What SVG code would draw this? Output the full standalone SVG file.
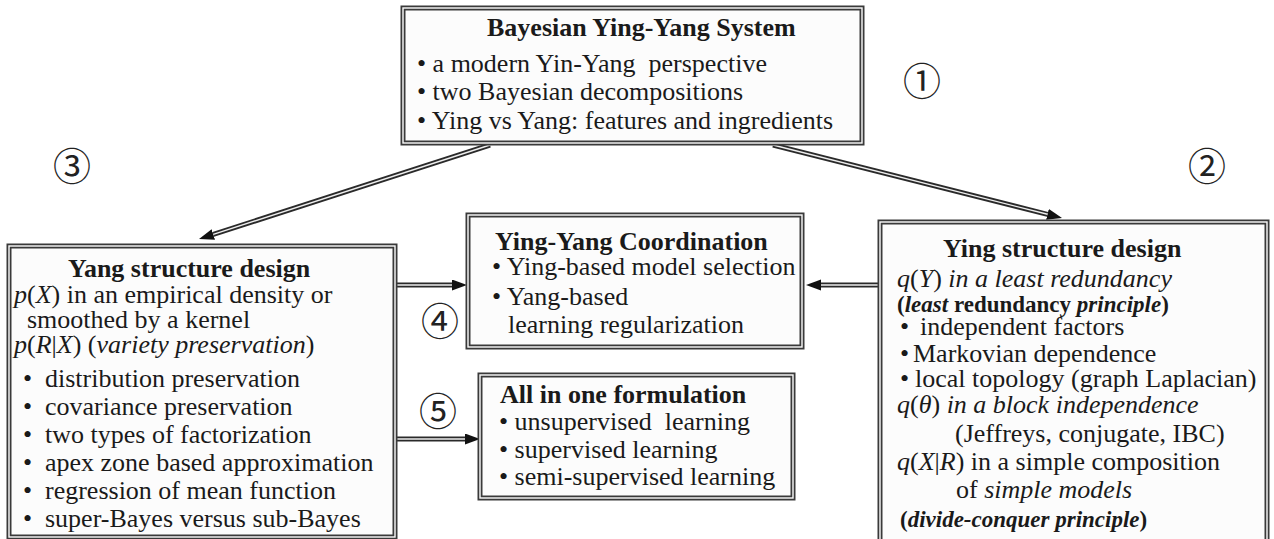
<svg xmlns="http://www.w3.org/2000/svg" width="1274" height="539" viewBox="0 0 1274 539">
<style>
text{font-family:"Liberation Serif","Times New Roman",serif;font-size:26px;fill:#1a1a1a}
.b{font-weight:bold}
.i{font-style:italic}
.s{font-size:23px}
.box{fill:#fcfcfc;stroke:#3a3a3a;stroke-width:5}
.gap{fill:none;stroke:#fcfcfc;stroke-width:1.4}
.shaft{fill:none;stroke:#2a2a2a;stroke-width:5}
.core{fill:none;stroke:#eeeeee;stroke-width:1.4}
.num{font-family:"Noto Sans CJK JP","DejaVu Sans",sans-serif;font-size:38px;text-anchor:middle;dominant-baseline:central;fill:#222}
</style>
<defs>
<marker id="ah" markerUnits="userSpaceOnUse" markerWidth="16" markerHeight="12" refX="0" refY="5.5" orient="auto">
<path d="M0,0 L15,5.5 L0,11 Z" fill="#111"/>
</marker>
</defs>
<rect width="1274" height="539" fill="#ffffff"/>

<g id="connectors">
<line class="shaft" x1="490" y1="145" x2="213.3" y2="234.4" marker-end="url(#ah)"/>
<line class="core" x1="490" y1="145" x2="213.3" y2="234.4"/>
<line class="shaft" x1="773" y1="145" x2="1047.5" y2="214.3" marker-end="url(#ah)"/>
<line class="core" x1="773" y1="145" x2="1047.5" y2="214.3"/>
<line class="shaft" x1="397" y1="285" x2="452" y2="285" marker-end="url(#ah)"/>
<line class="core" x1="397" y1="285" x2="452" y2="285"/>
<line class="shaft" x1="878" y1="285" x2="821" y2="285" marker-end="url(#ah)"/>
<line class="core" x1="878" y1="285" x2="821" y2="285"/>
<line class="shaft" x1="397" y1="439" x2="465" y2="439" marker-end="url(#ah)"/>
<line class="core" x1="397" y1="439" x2="465" y2="439"/>
</g>

<g id="bys">
<rect class="box" x="403" y="8" width="459" height="135"/>
<rect class="gap" x="403" y="8" width="459" height="135"/>
<text class="b" x="487" y="36">Bayesian Ying-Yang System</text>
<text x="417" y="72">• a modern Yin-Yang&#160; perspective</text>
<text x="417" y="100">• two Bayesian decompositions</text>
<text x="417" y="129">• Ying vs Yang: features and ingredients</text>
</g>

<g id="yang">
<rect class="box" x="9" y="246" width="386" height="291"/>
<rect class="gap" x="9" y="246" width="386" height="291"/>
<text class="b" x="68" y="277">Yang structure design</text>
<text x="14" y="303"><tspan class="i">p</tspan>(<tspan class="i">X</tspan>) in an empirical density or</text>
<text x="27" y="328">smoothed by a kernel</text>
<text x="14" y="353"><tspan class="i">p</tspan>(<tspan class="i">R</tspan>|<tspan class="i">X</tspan>) (<tspan class="i">variety preservation</tspan>)</text>
<text y="387"><tspan x="23">•</tspan><tspan x="45">distribution preservation</tspan></text>
<text y="415"><tspan x="23">•</tspan><tspan x="45">covariance preservation</tspan></text>
<text y="443"><tspan x="23">•</tspan><tspan x="45">two types of factorization</tspan></text>
<text y="471"><tspan x="23">•</tspan><tspan x="45">apex zone based approximation</tspan></text>
<text y="499"><tspan x="23">•</tspan><tspan x="45">regression of mean function</tspan></text>
<text y="527"><tspan x="23">•</tspan><tspan x="45">super-Bayes versus sub-Bayes</tspan></text>
</g>

<g id="coord">
<rect class="box" x="468" y="215" width="334" height="132"/>
<rect class="gap" x="468" y="215" width="334" height="132"/>
<text class="b" x="495" y="250">Ying-Yang Coordination</text>
<text x="492" y="275">• Ying-based model selection</text>
<text x="492" y="305">• Yang-based</text>
<text x="508" y="333">learning regularization</text>
</g>

<g id="allinone">
<rect class="box" x="480" y="375" width="313" height="123"/>
<rect class="gap" x="480" y="375" width="313" height="123"/>
<text class="b" x="500" y="403">All in one formulation</text>
<text x="499" y="430">• unsupervised&#160; learning</text>
<text x="499" y="458">• supervised learning</text>
<text x="499" y="485">• semi-supervised learning</text>
</g>

<g id="ying">
<rect class="box" x="880" y="222" width="387" height="322"/>
<rect class="gap" x="880" y="222" width="387" height="322"/>
<text class="b" x="943" y="257">Ying structure design</text>
<text x="897" y="287"><tspan class="i">q</tspan>(<tspan class="i">Y</tspan>)<tspan class="i"> in a least redundancy</tspan></text>
<text class="b s" x="897" y="312">(<tspan class="i">least</tspan> redundancy <tspan class="i">principle</tspan>)</text>
<text y="335"><tspan x="900">•</tspan><tspan x="920">independent factors</tspan></text>
<text y="362"><tspan x="900">•</tspan><tspan x="913">Markovian dependence</tspan></text>
<text y="387"><tspan x="900">•</tspan><tspan x="915">local topology (graph Laplacian)</tspan></text>
<text x="897" y="413"><tspan class="i">q</tspan>(<tspan class="i">θ</tspan>)<tspan class="i"> in a block independence</tspan></text>
<text x="955" y="442">(Jeffreys, conjugate, IBC)</text>
<text x="897" y="470"><tspan class="i">q</tspan>(<tspan class="i">X</tspan>|<tspan class="i">R</tspan>) in a simple composition</text>
<text x="956" y="498">of <tspan class="i">simple models</tspan></text>
<text class="b s" x="900" y="527">(<tspan class="i">divide-conquer principle</tspan>)</text>
</g>

<g id="labels">
<text class="num" x="922" y="78">①</text>
<text class="num" x="1207" y="163">②</text>
<text class="num" x="72" y="163">③</text>
<text class="num" x="440" y="318">④</text>
<text class="num" x="438" y="408">⑤</text>
</g>
</svg>
